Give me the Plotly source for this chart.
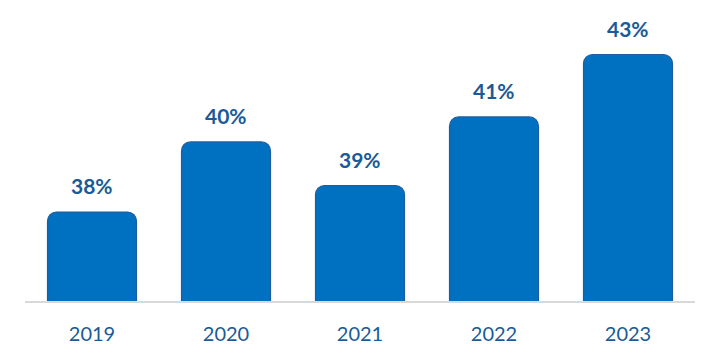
import plotly.graph_objects as go

years = ["2019", "2020", "2021", "2022", "2023"]
values = [38.0, 40.25, 38.85, 41.05, 43.05]
labels = ["38%", "40%", "39%", "41%", "43%"]

bar_color = "#0070C0"
edge_color = "#1F5E9E"
text_color = "#1A5A98"
y_floor = 35.15

fig = go.Figure(go.Bar(
    x=years, y=values,
    marker=dict(color=bar_color, line=dict(color=edge_color, width=1.2), cornerradius=9),
    hoverinfo="skip",
))

# category axis: annotation x given as category index
for i, (v, lab) in enumerate(zip(values, labels)):
    fig.add_annotation(x=i, y=v, text=f"<b>{lab}</b>", showarrow=False,
                       yanchor="bottom", yshift=12,
                       font=dict(family="Lato", size=21, color=text_color))

fig.update_layout(
    width=691, height=348,
    margin=dict(l=17, r=4, t=2, b=55),
    paper_bgcolor="white", plot_bgcolor="white",
    bargap=0.336, showlegend=False,
    xaxis=dict(type="category", showline=True, linecolor="#D9D9D9", linewidth=2,
               ticks="outside", ticklen=14, tickcolor="rgba(0,0,0,0)",
               tickfont=dict(family="Lato", size=20, color=text_color),
               showgrid=False, range=[-0.5, 4.5]),
    yaxis=dict(range=[y_floor, 44.477], visible=False, showgrid=False, zeroline=False),
)
fig.write_html("out.html")
